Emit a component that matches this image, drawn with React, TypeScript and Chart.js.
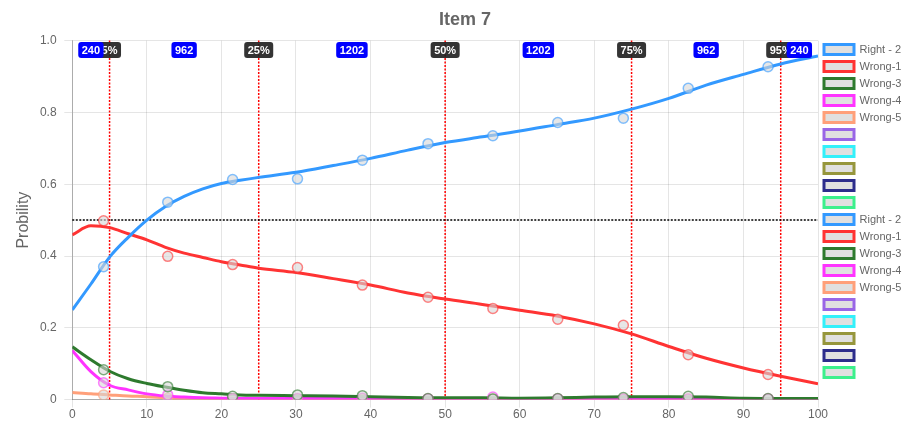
import React, { useEffect, useRef } from 'react';
import { Chart, registerables } from 'chart.js';

Chart.register(...registerables);

// ---- data ----
const curveX = [0, 2.5, 5, 7.5, 10, 12.5, 15, 17.5, 20, 22.5, 25, 30, 35, 40, 45, 50, 55, 60, 65, 70, 75, 80, 85, 90, 95, 100];
const right2Curve = [0.250, 0.322, 0.397, 0.452, 0.500, 0.538, 0.566, 0.587, 0.602, 0.611, 0.619, 0.633, 0.652, 0.672, 0.695, 0.716, 0.732, 0.748, 0.766, 0.784, 0.809, 0.839, 0.876, 0.906, 0.935, 0.957];
const wrong1Curve = [0.459, 0.484, 0.479, 0.462, 0.445, 0.424, 0.408, 0.396, 0.384, 0.375, 0.366, 0.354, 0.337, 0.319, 0.297, 0.280, 0.265, 0.249, 0.233, 0.211, 0.183, 0.148, 0.115, 0.088, 0.065, 0.044];
const wrong3Curve = [0.147, 0.111, 0.079, 0.058, 0.045, 0.035, 0.026, 0.019, 0.016, 0.013, 0.012, 0.011, 0.010, 0.008, 0.006, 0.005, 0.005, 0.004, 0.005, 0.007, 0.008, 0.008, 0.007, 0.004, 0.003, 0.003];
const wrong4Curve = [0.137, 0.078, 0.040, 0.027, 0.016, 0.010, 0.007, 0.005, 0.004, 0.003, 0.003, 0.003, 0.003, 0.003, 0.003, 0.003, 0.003, 0.003, 0.003, 0.003, 0.003, 0.003, 0.003, 0.003, 0.003, 0.003];
const wrong5Curve = [0.020, 0.016, 0.013, 0.010, 0.008, 0.005, 0.003, 0.002, 0.002, 0.002, 0.002, 0.002, 0.002, 0.002, 0.002, 0.002, 0.001, 0.001, 0.001, 0.001, 0.001, 0.001, 0.001, 0.001, 0.001, 0.001];

const pointX = [4.2, 12.8, 21.5, 30.2, 38.9, 47.7, 56.4, 65.1, 73.9, 82.6, 93.3];
const right2Points = [0.370, 0.550, 0.613, 0.615, 0.667, 0.713, 0.735, 0.772, 0.784, 0.867, 0.927];
const wrong1Points = [0.498, 0.399, 0.376, 0.368, 0.319, 0.285, 0.254, 0.224, 0.207, 0.125, 0.070];
const wrong3Points = [0.083, 0.036, 0.009, 0.013, 0.011, 0.003, 0.002, 0.003, 0.006, 0.009, 0.003];
const wrong4Points = [0.047, 0.013, 0.002, 0.003, 0.004, 0.002, 0.007, 0.002, 0.002, 0.002, 0.002];
const wrong5Points = [0.013, 0.004, 0.002, 0.002, 0.002, 0.002, 0.002, 0.002, 0.002, 0.002, 0.002];

const seriesNames = ['Right - 2', 'Wrong-1', 'Wrong-3', 'Wrong-4', 'Wrong-5', '', '', '', '', ''];
const curveSeries: number[][] = [right2Curve, wrong1Curve, wrong3Curve, wrong4Curve, wrong5Curve, [], [], [], [], []];
const pointSeries: number[][] = [right2Points, wrong1Points, wrong3Points, wrong4Points, wrong5Points, [], [], [], [], []];

const percentilePositions = [5, 25, 50, 75, 95];
const percentileLabels = ['5%', '25%', '50%', '75%', '95%'];
const groupCenters = [2.5, 15, 37.5, 62.5, 85, 97.5];
const groupCounts = [240, 962, 1202, 1202, 962, 240];
const thresholdValue = 0.5;

const xTickMin = 0;
const xTickMax = 100;
const xTickStep = 10;
const yTickMin = 0;
const yTickMax = 1;
const yTickStep = 0.2;

// ---- styles ----
const seriesRGB: [number, number, number][] = [
  [51, 153, 255],
  [255, 51, 51],
  [46, 122, 46],
  [255, 51, 255],
  [255, 160, 122],
  [153, 102, 230],
  [51, 240, 250],
  [150, 150, 60],
  [45, 45, 140],
  [60, 240, 140],
];
const rgba = (c: [number, number, number], a: number) => `rgba(${c[0]},${c[1]},${c[2]},${a})`;
const FONT = "'Liberation Sans', Arial, Helvetica, sans-serif";
const BOX_FILL = 'rgba(218,218,218,0.85)';

function roundRect(ctx: CanvasRenderingContext2D, x: number, y: number, w: number, h: number, r: number) {
  ctx.beginPath();
  ctx.moveTo(x + r, y);
  ctx.lineTo(x + w - r, y);
  ctx.quadraticCurveTo(x + w, y, x + w, y + r);
  ctx.lineTo(x + w, y + h - r);
  ctx.quadraticCurveTo(x + w, y + h, x + w - r, y + h);
  ctx.lineTo(x + r, y + h);
  ctx.quadraticCurveTo(x, y + h, x, y + h - r);
  ctx.lineTo(x, y + r);
  ctx.quadraticCurveTo(x, y, x + r, y);
  ctx.closePath();
}

const annotationPlugin = {
  id: 'itemAnnotations',
  beforeDatasetsDraw(chart: any) {
    const { ctx, chartArea, scales } = chart;
    const xs = scales.x;
    const ys = scales.y;
    ctx.save();
    ctx.lineWidth = 1.5;
    ctx.setLineDash([2, 1.5]);
    ctx.strokeStyle = '#ff0000';
    percentilePositions.forEach((p) => {
      const px = xs.getPixelForValue(p);
      ctx.beginPath();
      ctx.moveTo(px, ys.getPixelForValue(yTickMax));
      ctx.lineTo(px, ys.getPixelForValue(yTickMin));
      ctx.stroke();
    });
    ctx.strokeStyle = '#000000';
    const py = ys.getPixelForValue(thresholdValue);
    ctx.beginPath();
    ctx.moveTo(chartArea.left, py);
    ctx.lineTo(chartArea.right, py);
    ctx.stroke();
    ctx.restore();
  },
  afterDatasetsDraw(chart: any) {
    const { ctx, scales } = chart;
    const xs = scales.x;
    const ys = scales.y;
    const top = ys.getPixelForValue(yTickMax) + 1.5;
    const h = 16;
    ctx.save();
    ctx.font = `bold 11px ${FONT}`;
    ctx.textAlign = 'center';
    ctx.textBaseline = 'middle';
    const drawTag = (text: string, value: number, bg: string) => {
      const cx = xs.getPixelForValue(value);
      const w = ctx.measureText(text).width + 7;
      ctx.fillStyle = bg;
      roundRect(ctx, cx - w / 2, top, w, h, 3);
      ctx.fill();
      ctx.fillStyle = '#ffffff';
      ctx.fillText(text, cx, top + h / 2 + 0.5);
    };
    percentilePositions.forEach((p, i) => drawTag(percentileLabels[i], p, 'rgba(30,30,30,0.9)'));
    groupCenters.forEach((g, i) => drawTag(String(groupCounts[i]), g, '#0000ff'));
    ctx.restore();
  },
};

export default function App() {
  const canvasRef = useRef<HTMLCanvasElement | null>(null);

  useEffect(() => {
    if (!canvasRef.current) return;
    Chart.defaults.font.family = FONT;
    Chart.defaults.color = '#666';

    const lineSets = curveSeries.map((vals, i) => ({
      type: 'line' as const,
      label: seriesNames[i],
      data: vals.map((v, j) => ({ x: curveX[j], y: v })),
      borderColor: rgba(seriesRGB[i], 1),
      backgroundColor: BOX_FILL,
      borderWidth: 3,
      pointRadius: 0,
      pointHoverRadius: 0,
      cubicInterpolationMode: 'monotone' as const,
      fill: false,
      order: 1,
    }));
    const pointSets = pointSeries.map((vals, i) => ({
      type: 'scatter' as const,
      label: seriesNames[i],
      data: vals.map((v, j) => ({ x: pointX[j], y: v })),
      borderColor: rgba(seriesRGB[i], 1),
      backgroundColor: BOX_FILL,
      borderWidth: 3,
      pointRadius: 5,
      pointBorderWidth: 1.5,
      pointBackgroundColor: 'rgba(215,215,215,0.6)',
      pointBorderColor: rgba(seriesRGB[i], 0.6),
      showLine: false,
      order: 0,
    }));

    const chart = new Chart(canvasRef.current, {
      type: 'line',
      data: { datasets: [...lineSets, ...pointSets] as any },
      options: {
        animation: false,
        responsive: false,
        devicePixelRatio: 1,
        layout: { padding: { left: 21, right: 0, top: 0, bottom: 0 } },
        plugins: {
          title: {
            display: true,
            text: 'Item 7',
            color: '#666',
            font: { size: 18, weight: 'bold', family: FONT },
            padding: { top: 9, bottom: 10 },
          },
          legend: {
            position: 'right',
            maxWidth: 91,
            labels: {
              boxWidth: 30,
              boxHeight: 10,
              padding: 6,
              color: '#666',
              font: { size: 11, family: FONT },
              generateLabels: (c: any) =>
                c.data.datasets.map((ds: any, i: number) => ({
                  text: ds.label,
                  fillStyle: BOX_FILL,
                  strokeStyle: ds.borderColor,
                  lineWidth: 3,
                  hidden: !c.isDatasetVisible(i),
                  datasetIndex: i,
                  fontColor: '#666',
                })),
            },
          },
          tooltip: { enabled: false },
        },
        scales: {
          x: {
            type: 'linear',
            min: xTickMin,
            max: xTickMax,
            ticks: { stepSize: xTickStep, padding: 0, color: '#666', font: { size: 12 } },
            grid: { color: 'rgba(0,0,0,0.1)' },
            border: { color: 'rgba(0,0,0,0.25)' },
          },
          y: {
            type: 'linear',
            min: yTickMin,
            max: yTickMax,
            ticks: {
              stepSize: yTickStep,
              padding: 7.7,
              color: '#666',
              font: { size: 12 },
              callback: (v: any) => (Number(v) === 0 ? '0' : Number(v).toFixed(1)),
            },
            grid: { color: 'rgba(0,0,0,0.1)' },
            border: { color: 'rgba(0,0,0,0.25)' },
            title: {
              display: true,
              text: 'Probility',
              color: '#666',
              font: { size: 16 },
              padding: { top: -7, bottom: -1 },
            },
          },
        },
      },
      plugins: [annotationPlugin],
    });
    return () => chart.destroy();
  }, []);

  return (
    <div style={{ position: 'absolute', left: 0, top: 0, width: 909, height: 422 }}>
      <canvas ref={canvasRef} width={909} height={422} />
    </div>
  );
}
